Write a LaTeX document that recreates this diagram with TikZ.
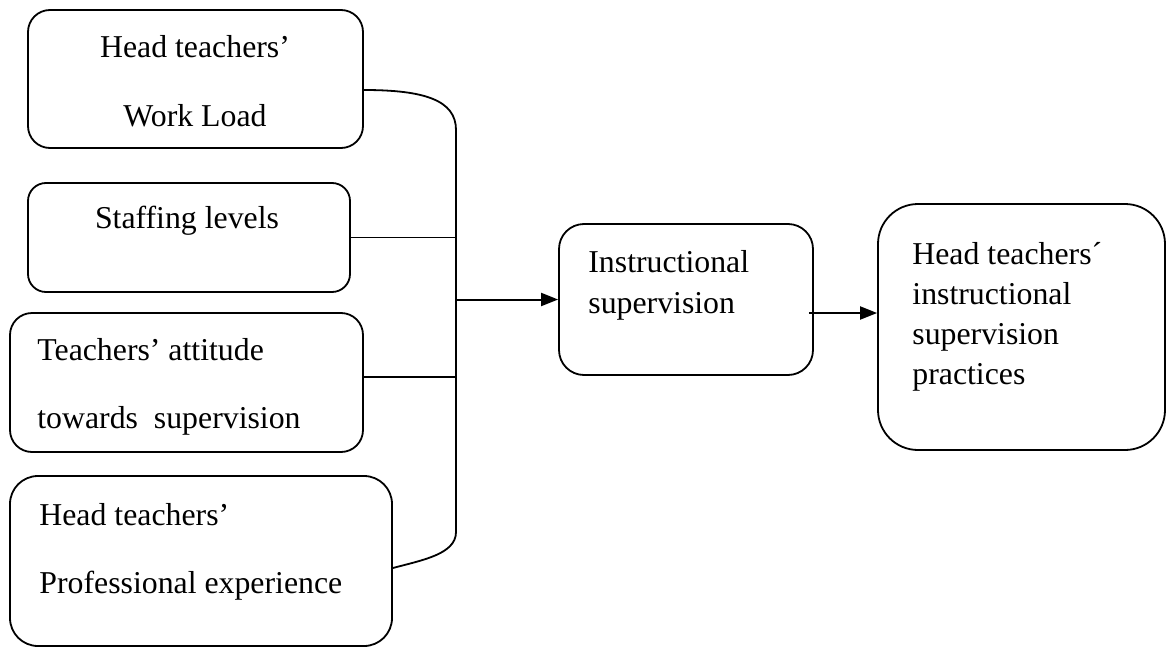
\documentclass[tikz,border=0pt]{standalone}
\usepackage{fontspec}
\setmainfont{Liberation Serif}
\usetikzlibrary{arrows.meta,positioning}

\tikzset{
  box/.style={draw, rounded corners=11pt, line width=0.9pt, inner sep=0pt},
  txt/.style={inner sep=0pt, font=\fontsize{15.9}{20}\selectfont},
  link/.style={line width=0.9pt},
  arr/.style={line width=1pt, -{Triangle[length=8.5pt,width=6.5pt]}}
}

\begin{document}
\begin{tikzpicture}[x=0.5pt,y=-0.5pt]
\useasboundingbox (0,0) rectangle (1173,648);

% factor boxes
\node[box, minimum width=167.5pt, minimum height=69pt] (wl) at (195.5,79) {};
\node[box, rounded corners=9pt, minimum width=161pt, minimum height=54.5pt] (sl) at (189,237.5) {};
\node[box, minimum width=176.5pt, minimum height=69.5pt] (ta) at (186.5,382.5) {};
\node[box, rounded corners=14pt, minimum width=191pt, minimum height=85pt] (pe) at (201,561) {};

% base of a multi-line text is its last line
\node[txt, anchor=base, align=center] (wlt) at (195,126) {Head teachers’\\[14.5pt]Work Load};
\node[txt, anchor=base] (slt) at (187,228) {Staffing levels};
\node[txt, anchor=base west, align=left] (tat) at (37,428) {Teachers’ attitude\\[14pt]towards\ \ supervision};
\node[txt, anchor=base west, align=left] (pet) at (39,593) {Head teachers’\\[14pt]Professional experience};

% middle and result
\node[box, rounded corners=12.5pt, minimum width=127pt, minimum height=75.5pt] (ins) at (686,299.5) {};
\node[txt, anchor=base west, align=left] (inst) at (588,313) {Instructional\\[0.5pt]supervision};

\node[box, rounded corners=20pt, minimum width=143.5pt, minimum height=123pt] (hp) at (1021.5,327) {};
\node[txt, anchor=base west, align=left] (hpt) at (912,384) {Head teachers´\\instructional\\supervision\\practices};

% bracket
\coordinate (jtop) at (456,130);
\coordinate (jbot) at (456,532);
\draw[link] ([yshift=-5.5pt]wl.east) .. controls +(60,0) and +(0,-30) .. (jtop)
  -- (jbot) .. controls +(0,22) and +(30,-8) .. ([yshift=-3.5pt]pe.east);

\draw[link] (sl.east) -- (sl.east -| jtop);
\coordinate (tj) at ([yshift=2.75pt]ta.east);
\draw[link] (tj) -- (tj -| jtop);

% arrows
\coordinate (sj) at (jtop |- ins.west);
\draw[arr] (sj) -- (ins.west);
\coordinate (io) at ([xshift=-2.5pt,yshift=-6.75pt]ins.east);
\draw[arr] (io) -- (io -| hp.west);

\end{tikzpicture}
\end{document}
